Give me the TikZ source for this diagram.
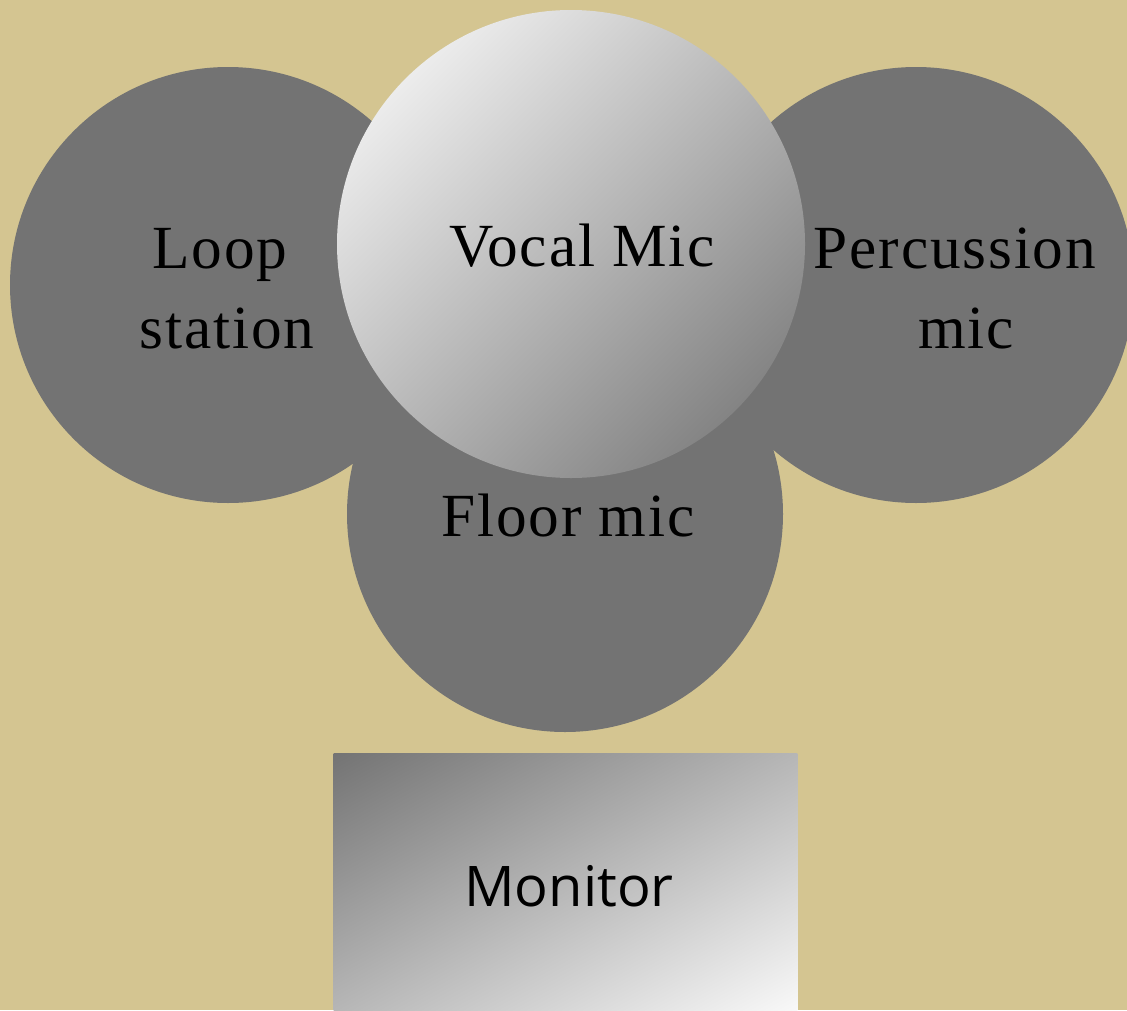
\documentclass[tikz,border=0pt]{standalone}
\usepackage{fontspec}
\newfontfamily\serifA[LetterSpace=3]{Liberation Serif}
\newfontfamily\sansA{Open Sans}
\definecolor{bgtan}{RGB}{212,197,145}
\definecolor{discgray}{RGB}{115,115,115}
\definecolor{vocA}{RGB}{236,236,236}
\definecolor{vocB}{RGB}{132,132,132}
\definecolor{monA}{RGB}{116,116,116}
\definecolor{monB}{RGB}{248,248,248}
\pgfdeclareverticalshading{monshade}{100bp}{color(0bp)=(monB); color(31.33bp)=(monB); color(68.67bp)=(monA); color(100bp)=(monA)}
\begin{document}
\begin{tikzpicture}[x=0.75pt,y=-0.75pt,
  disc/.style={circle,fill=discgray,inner sep=0pt,minimum size=327pt},
  bigdisc/.style={circle,inner sep=0pt,minimum size=351pt,shade,
    top color=vocA,bottom color=vocB,shading angle=45},
  monbox/.style={rectangle,inner sep=0pt,minimum width=347.25pt,minimum height=192pt},
  lbl/.style={inner sep=0pt,anchor=base,text=black,font=\serifA\fontsize{46}{46}\selectfont},
  mlbl/.style={inner sep=0pt,anchor=base,text=black,font=\sansA\fontsize{42}{42}\selectfont}]
\useasboundingbox (0,0) rectangle (1127,1010);
\clip (0,0) rectangle (1127,1010);
\fill[bgtan] (0,0) rectangle (1127,1010);
\node[disc] (loop) at (228,285) {};
\node[disc] (perc) at (916,285) {};
\node[disc] (floor) at (565,514) {};
\node[bigdisc] (vocal) at (571,244) {};
\node[monbox] (monitor) at (565.5,882) {};
\begin{scope}
  \clip (monitor.south west) rectangle (monitor.north east);
  \shade[shading=monshade,shading angle=28.94] (265.5,582) rectangle (865.5,1182);
\end{scope}
\node[lbl] (t1) at (220,268) {Loop};
\node[lbl] (t2) at (227,348) {station};
\node[lbl] (t3) at (582,266) {Vocal Mic};
\node[lbl] (t4) at (955,268) {Percussion};
\node[lbl] (t5) at (966,348) {mic};
\node[lbl] (t6) at (568,536) {Floor mic};
\node[mlbl] (t7) at (569,906) {Monitor};
\end{tikzpicture}
\end{document}
